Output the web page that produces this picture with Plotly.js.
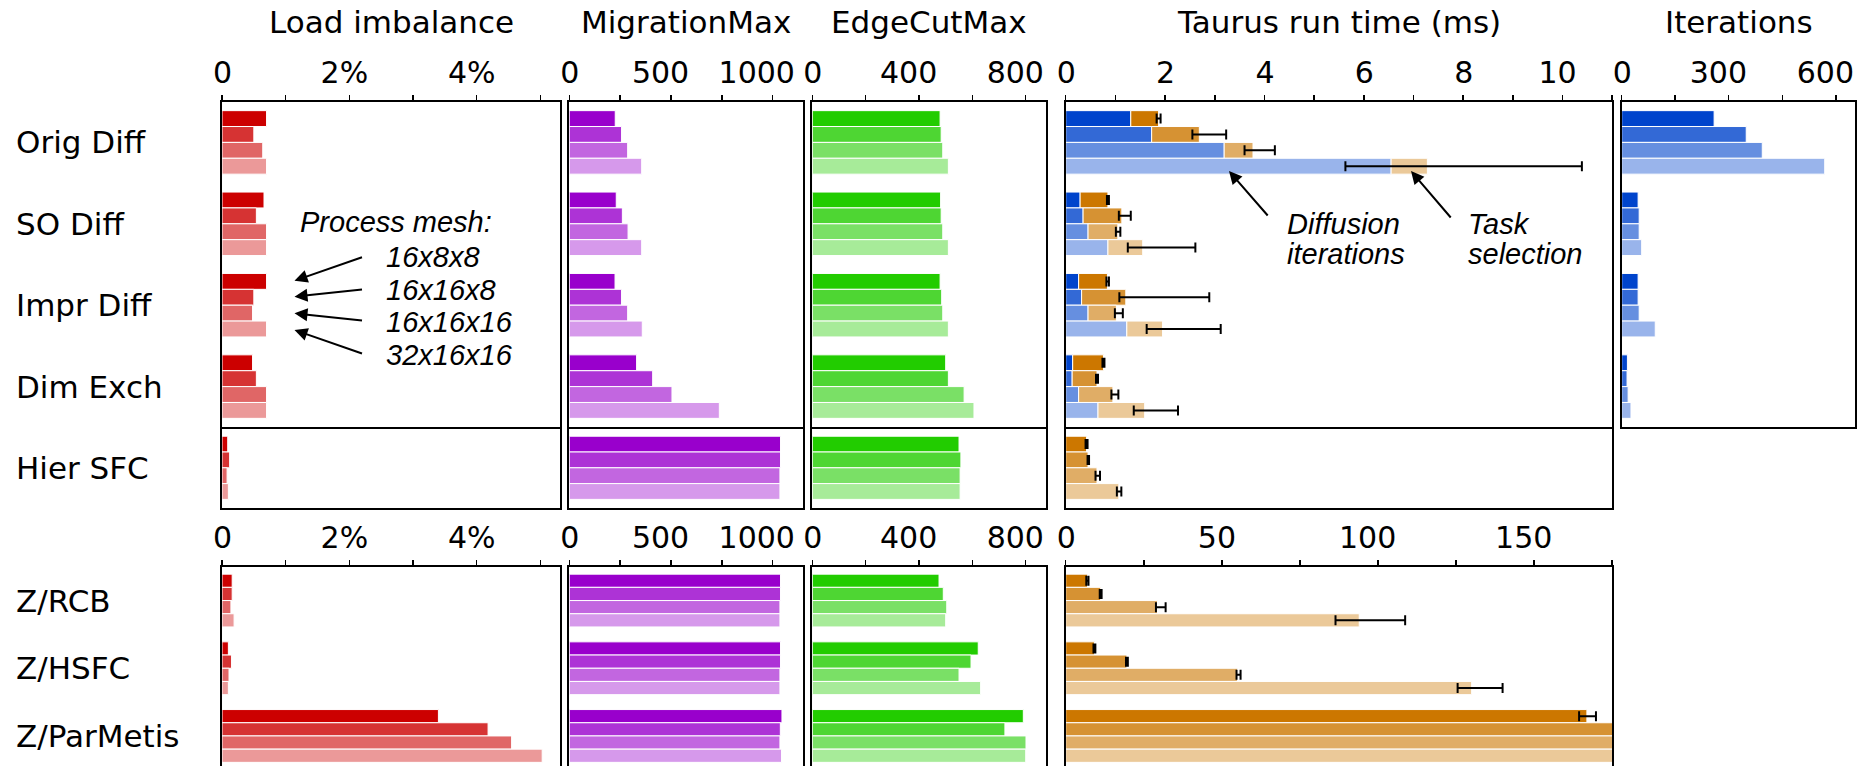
<!DOCTYPE html>
<html><head><meta charset="utf-8">
<script src="https://cdn.plot.ly/plotly-3.0.1.min.js"></script>
<style>html,body{margin:0;padding:0;background:#fff}#chart{width:1870px;height:766px}</style>
</head><body><div id="chart"></div><script>
// ---------------- data ----------------
const methodsUpper = ['Orig Diff', 'SO Diff', 'Impr Diff', 'Dim Exch'];
const methodsMiddle = ['Hier SFC'];
const methodsLower = ['Z/RCB', 'Z/HSFC', 'Z/ParMetis'];
const meshes = ['16x8x8', '16x16x8', '16x16x16', '32x16x16'];
// method order in the arrays below: Orig Diff, SO Diff, Impr Diff, Dim Exch, Hier SFC, Z/RCB, Z/HSFC, Z/ParMetis

// Load imbalance (%)
const imb_16x8x8   = [0.70, 0.66, 0.70, 0.48, 0.09, 0.16, 0.10, 3.40];
const imb_16x16x8  = [0.50, 0.54, 0.50, 0.54, 0.12, 0.16, 0.15, 4.18];
const imb_16x16x16 = [0.64, 0.70, 0.48, 0.70, 0.08, 0.14, 0.11, 4.55];
const imb_32x16x16 = [0.70, 0.70, 0.70, 0.70, 0.10, 0.19, 0.10, 5.03];

// MigrationMax
const mig_16x8x8   = [226, 231, 225, 331, 1039, 1039, 1039, 1046];
const mig_16x16x8  = [257, 261, 257, 410, 1039, 1039, 1039, 1038];
const mig_16x16x16 = [287, 289, 287, 505, 1036, 1036, 1036, 1036];
const mig_32x16x16 = [356, 356, 359, 738, 1036, 1036, 1036, 1044];

// EdgeCutMax
const cut_16x8x8   = [479, 481, 479, 500, 550, 475, 622, 791];
const cut_16x16x8  = [483, 483, 485, 510, 557, 491, 595, 722];
const cut_16x16x16 = [489, 489, 489, 569, 554, 504, 550, 801];
const cut_32x16x16 = [510, 510, 510, 606, 554, 500, 631, 800];

// Taurus run time (ms): diffusion iterations part
const diff_16x8x8   = [1.31, 0.29, 0.26, 0.14, 0, 0, 0, 0];
const diff_16x16x8  = [1.73, 0.35, 0.32, 0.13, 0, 0, 0, 0];
const diff_16x16x16 = [3.19, 0.45, 0.45, 0.26, 0, 0, 0, 0];
const diff_32x16x16 = [6.55, 0.85, 1.23, 0.65, 0, 0, 0, 0];
// Taurus run time (ms): task selection part
const task_16x8x8   = [0.56, 0.56, 0.58, 0.62, 0.42, 7.0, 9.2, 166.9];
const task_16x16x8  = [0.96, 0.78, 0.89, 0.50, 0.45, 11.2, 19.6, 190];
const task_16x16x16 = [0.58, 0.60, 0.57, 0.69, 0.63, 29.4, 55.0, 190];
const task_32x16x16 = [0.73, 0.70, 0.72, 0.94, 1.07, 94.0, 130.0, 190];
// Taurus run time error range (low / high end, ms)
const errLo_16x8x8   = [1.83, 0.83, 0.82, 0.74, 0.40, 6.6, 8.9, 164.4];
const errHi_16x8x8   = [1.91, 0.87, 0.87, 0.78, 0.44, 7.3, 9.5, 169.8];
const errLo_16x16x8  = [2.55, 1.07, 1.08, 0.61, 0.44, 10.9, 19.3, null];
const errHi_16x16x8  = [3.23, 1.31, 2.89, 0.65, 0.47, 11.5, 19.9, null];
const errLo_16x16x16 = [3.60, 1.01, 0.99, 0.92, 0.60, 28.9, 54.7, null];
const errHi_16x16x16 = [4.21, 1.10, 1.15, 1.06, 0.69, 32.0, 56.0, null];
const errLo_32x16x16 = [5.63, 1.25, 1.63, 1.37, 1.03, 86.4, 125.5, null];
const errHi_32x16x16 = [10.39, 2.61, 3.12, 2.26, 1.12, 108.7, 139.9, null];

// Iterations (diffusion methods only)
const iter_16x8x8   = [259, 46, 46, 16];
const iter_16x16x8  = [349, 49, 46, 15];
const iter_16x16x16 = [394, 49, 49, 18];
const iter_32x16x16 = [569, 56, 94, 26];

// tick labels
const imbTickVals = [0, 2, 4],            imbTickText = ['0', '2%', '4%'];
const migTickVals = [0, 500, 1000],       migTickText = ['0', '500', '1000'];
const cutTickVals = [0, 400, 800],        cutTickText = ['0', '400', '800'];
const trTickVals = [0, 2, 4, 6, 8, 10],   trTickText = ['0', '2', '4', '6', '8', '10'];
const trLowTickVals = [0, 50, 100, 150],  trLowTickText = ['0', '50', '100', '150'];
const iterTickVals = [0, 300, 600],       iterTickText = ['0', '300', '600'];

const imbalance = [imb_16x8x8, imb_16x16x8, imb_16x16x16, imb_32x16x16];
const migration = [mig_16x8x8, mig_16x16x8, mig_16x16x16, mig_32x16x16];
const edgecut = [cut_16x8x8, cut_16x16x8, cut_16x16x16, cut_32x16x16];
const diffusion = [diff_16x8x8, diff_16x16x8, diff_16x16x16, diff_32x16x16];
const taskSel = [task_16x8x8, task_16x16x8, task_16x16x16, task_32x16x16];
const errLo = [errLo_16x8x8, errLo_16x16x8, errLo_16x16x16, errLo_32x16x16];
const errHi = [errHi_16x8x8, errHi_16x16x8, errHi_16x16x16, errHi_32x16x16];
const iterations = [iter_16x8x8, iter_16x16x8, iter_16x16x16, iter_32x16x16];

// ---------------- styling / layout ----------------
const W = 1870, H = 766;
const FONT = 'DejaVu Sans, Verdana, sans-serif';
const ITAL = 'Liberation Sans, Arial, sans-serif';
const RED = [204, 0, 0], PURPLE = [153, 0, 204], GREEN = [34, 204, 0], BLUE = [0, 68, 204], ORANGE = [204, 119, 0];
const ALPHAS = [1, 0.8, 0.6, 0.4];
function tint(rgb, a) { return 'rgb(' + rgb.map(c => Math.round(c * a + 255 * (1 - a))).join(',') + ')'; }
// labels in the reference sit slightly left of their ticks (more so for longer labels);
// "0" is nudged a hair to the right so that it stays inside the axis range
function labelShiftPx(s) { return (s.length - 1) * 5.5 - 0.6; }

const COLS = { li: [222, 560], mm: [569.3, 802.7], ec: [812.3, 1046], tr: [1065.7, 1612.2], it: [1621.7, 1855.4] };
const ROWS = { up: [101.7, 427.3], mid: [427.3, 508.3], low: [566.7, 766] };
const LOW_PITCH = 67.7;
const YR = { up: [3.5, -0.5], mid: [0.5, -0.5], low: [-0.5 + (766 - 566.7) / LOW_PITCH, -0.5] };
const ROW_METHODS = { up: [0, 1, 2, 3], mid: [4], low: [5, 6, 7] };
const ROW_LABELS = { up: methodsUpper, mid: methodsMiddle, low: methodsLower };
const BW = 0.195;

const layout = {
  width: W, height: H, margin: { l: 0, r: 0, t: 0, b: 0 },
  paper_bgcolor: '#fff', plot_bgcolor: '#fff', showlegend: false, barmode: 'overlay',
  font: { family: FONT, size: 30, color: '#000' }, annotations: []
};
const traces = [];
let axN = 0;

function tickAxis(range, minorStep, tickvals, ticktext, widthPx) {
  const perPx = (range[1] - range[0]) / widthPx;
  return {
    side: 'top', range: range, ticks: 'outside', ticklen: 5, tickwidth: 1.5, tickcolor: 'rgba(0,0,0,0)',
    tickfont: { family: FONT, size: 30, color: '#000' }, ticklabeloverflow: 'allow',
    tickmode: 'array', tickvals: tickvals.map((v, i) => v - labelShiftPx(ticktext[i]) * perPx), ticktext: ticktext,
    minor: { tickmode: 'linear', tick0: 0, dtick: minorStep, ticks: 'outside', ticklen: 5, tickwidth: 1.5, tickcolor: '#000', showgrid: false }
  };
}

function addSubplot(col, row, xopts) {
  axN++;
  const xs = axN === 1 ? 'xaxis' : 'xaxis' + axN, ys = axN === 1 ? 'yaxis' : 'yaxis' + axN;
  const xid = axN === 1 ? 'x' : 'x' + axN, yid = axN === 1 ? 'y' : 'y' + axN;
  const c = COLS[col], r = ROWS[row];
  layout[xs] = Object.assign({
    domain: [c[0] / W, c[1] / W], anchor: yid, showgrid: false, zeroline: false,
    showline: true, linecolor: '#000', linewidth: 2, fixedrange: true
  }, xopts);
  layout[ys] = {
    domain: [1 - r[1] / H, 1 - r[0] / H], anchor: xid, range: YR[row], showgrid: false, zeroline: false,
    showline: true, mirror: true, linecolor: '#000', linewidth: 2, showticklabels: false, ticks: '', fixedrange: true
  };
  return { x: xid, y: yid };
}

function xOptsFor(col, row, range, minorStep, tv, tt) {
  if (row === 'mid') return { side: 'bottom', range: range, showticklabels: false, ticks: '', mirror: false };
  const o = tickAxis(range, minorStep, tv, tt, COLS[col][1] - COLS[col][0]);
  o.mirror = (row === 'up');
  return o;
}

function barTrace(sp, xs, mesh, color, extra) {
  return Object.assign({
    type: 'bar', orientation: 'h', xaxis: sp.x, yaxis: sp.y, x: xs, y: xs.map((_, k) => k),
    width: BW, offset: -2 * BW + mesh * BW, marker: { color: color, line: { color: '#fff', width: 1 } },
    hoverinfo: 'skip', cliponaxis: true
  }, extra || {});
}

const simpleMetrics = [
  { col: 'li', data: imbalance, rgb: RED, range: [0, 5.31], minor: 1, tv: imbTickVals, tt: imbTickText },
  { col: 'mm', data: migration, rgb: PURPLE, range: [0, 1148], minor: 250, tv: migTickVals, tt: migTickText },
  { col: 'ec', data: edgecut, rgb: GREEN, range: [0, 876], minor: 200, tv: cutTickVals, tt: cutTickText }
];
const subplots = {};
['up', 'mid', 'low'].forEach(row => {
  simpleMetrics.forEach(m => {
    const sp = addSubplot(m.col, row, xOptsFor(m.col, row, m.range, m.minor, m.tv, m.tt));
    subplots[m.col + row] = sp;
    m.data.forEach((arr, mesh) => {
      traces.push(barTrace(sp, ROW_METHODS[row].map(i => arr[i]), mesh, tint(m.rgb, ALPHAS[mesh])));
    });
  });
  // Taurus run time
  const isLow = row === 'low';
  const sp = addSubplot('tr', row, xOptsFor('tr', row, isLow ? [0, 175] : [0, 11.0], isLow ? 25 : 1,
    isLow ? trLowTickVals : trTickVals, isLow ? trLowTickText : trTickText));
  for (let mesh = 0; mesh < 4; mesh++) {
    const idx = ROW_METHODS[row];
    const d = idx.map(i => diffusion[mesh][i]);
    const t = idx.map(i => taskSel[mesh][i]);
    const tot = idx.map((i, k) => d[k] + t[k]);
    const plus = idx.map((i, k) => errHi[mesh][i] == null ? NaN : errHi[mesh][i] - tot[k]);
    const minus = idx.map((i, k) => errLo[mesh][i] == null ? NaN : tot[k] - errLo[mesh][i]);
    if (row === 'up') traces.push(barTrace(sp, d, mesh, tint(BLUE, ALPHAS[mesh])));
    traces.push(barTrace(sp, t, mesh, tint(ORANGE, ALPHAS[mesh]), {
      base: d,
      error_x: { type: 'data', symmetric: false, array: plus, arrayminus: minus, color: '#000', thickness: 2, width: 5 }
    }));
  }
  if (row === 'up') {
    const spi = addSubplot('it', row, xOptsFor('it', row, [0, 655], 150, iterTickVals, iterTickText));
    iterations.forEach((arr, mesh) => traces.push(barTrace(spi, arr, mesh, tint(BLUE, ALPHAS[mesh]))));
  }
});

// row labels
['up', 'mid', 'low'].forEach(row => {
  ROW_LABELS[row].forEach((lab, k) => layout.annotations.push({
    text: lab, xref: 'paper', x: 14 / W, xanchor: 'left', yref: subplots['li' + row].y, y: k, yanchor: 'middle',
    showarrow: false, font: { family: FONT, size: 31, color: '#000' }
  }));
});
// panel titles
const titles = [['li', 'Load imbalance'], ['mm', 'MigrationMax'], ['ec', 'EdgeCutMax'], ['tr', 'Taurus run time (ms)'], ['it', 'Iterations']];
titles.forEach(([c, t]) => layout.annotations.push({
  text: t, xref: 'paper', yref: 'paper', x: (COLS[c][0] + COLS[c][1]) / 2 / W, y: 1 - 22 / H,
  xanchor: 'center', yanchor: 'middle', showarrow: false, font: { family: FONT, size: 31, color: '#000' }
}));
// italic notes
function note(text, xpx, ypx) {
  layout.annotations.push({ text: '<i>' + text + '</i>', xref: 'paper', yref: 'paper', x: xpx / W, y: 1 - ypx / H,
    xanchor: 'left', yanchor: 'middle', showarrow: false, font: { family: ITAL, size: 29, color: '#000' } });
}
function arrow(tipx, tipy, ax, ay) {
  layout.annotations.push({ text: '', xref: 'paper', yref: 'paper', x: tipx / W, y: 1 - tipy / H,
    axref: 'pixel', ayref: 'pixel', ax: ax, ay: ay, showarrow: true, arrowhead: 2, arrowsize: 1.3, arrowwidth: 2, arrowcolor: '#000' });
}
note('Process mesh:', 298, 222);
const meshY = [257, 290, 322, 355];
meshes.forEach((m, i) => note(m, 384, meshY[i]));
arrow(294.5, 280.7, 69, -24);
arrow(294.5, 296.7, 69, -7.4);
arrow(294.5, 313.3, 69, 7.4);
arrow(294.5, 330, 69, 24);
note('Diffusion', 1285, 224);
note('iterations', 1285, 254);
note('Task', 1466, 224);
note('selection', 1466, 254);
arrow(1229, 171, 40, 46);
arrow(1411, 171, 41, 48);

Plotly.newPlot('chart', traces, layout, { staticPlot: true, displayModeBar: false });
</script></body></html>
